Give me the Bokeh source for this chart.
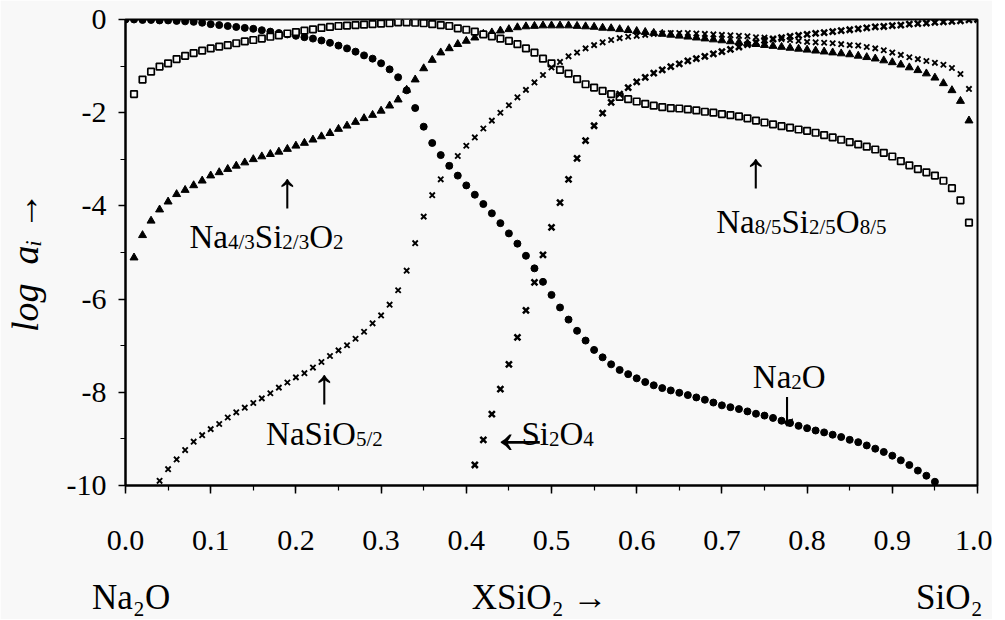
import math
from bokeh.plotting import figure
from bokeh.models import Range1d, Label, FixedTicker, PrintfTickFormatter, LinearAxis
from bokeh.embed import file_html
from bokeh.resources import INLINE

# ---------------- data (log a_i vs X_SiO2, step 0.01) ----------------
STEP = 0.01

na2o_x0 = 0.00
na2o_y = [0.0, 0.0, -0.01, -0.01, -0.02, -0.02, -0.03, -0.04, -0.05, -0.07,
          -0.10, -0.12, -0.14, -0.16, -0.18, -0.20, -0.23, -0.26, -0.29, -0.32,
          -0.35, -0.38, -0.41, -0.45, -0.50, -0.56, -0.62, -0.69, -0.77, -0.84,
          -0.94, -1.07, -1.24, -1.52, -1.90, -2.30, -2.65, -2.91, -3.14, -3.35,
          -3.56, -3.76, -3.96, -4.16, -4.37, -4.59, -4.81, -5.07, -5.34, -5.63,
          -5.91, -6.18, -6.44, -6.68, -6.89, -7.09, -7.25, -7.40, -7.52, -7.61,
          -7.70, -7.78, -7.85, -7.91, -7.96, -8.01, -8.06, -8.11, -8.16, -8.22,
          -8.28, -8.32, -8.36, -8.41, -8.46, -8.50, -8.55, -8.61, -8.66, -8.72,
          -8.77, -8.82, -8.86, -8.91, -8.96, -9.02, -9.07, -9.14, -9.21, -9.28,
          -9.36, -9.46, -9.56, -9.68, -9.79, -9.92]

na43_x0 = 0.01   # Na4/3Si2/3O2 (triangles)
na43_y = [-5.11, -4.63, -4.32, -4.08, -3.91, -3.75, -3.66, -3.56, -3.46, -3.35,
          -3.28, -3.21, -3.14, -3.07, -3.00, -2.94, -2.89, -2.84, -2.78, -2.71,
          -2.65, -2.58, -2.51, -2.44, -2.35, -2.28, -2.20, -2.12, -2.05, -1.96,
          -1.85, -1.72, -1.51, -1.29, -1.05, -0.87, -0.71, -0.62, -0.53, -0.46,
          -0.39, -0.31, -0.28, -0.24, -0.21, -0.17, -0.15, -0.14, -0.13, -0.13,
          -0.13, -0.13, -0.14, -0.15, -0.16, -0.18, -0.19, -0.21, -0.23, -0.25,
          -0.27, -0.29, -0.31, -0.33, -0.35, -0.37, -0.39, -0.41, -0.43, -0.45,
          -0.47, -0.49, -0.51, -0.53, -0.55, -0.57, -0.59, -0.61, -0.63, -0.65,
          -0.67, -0.69, -0.71, -0.73, -0.75, -0.78, -0.81, -0.84, -0.88, -0.92,
          -0.97, -1.03, -1.09, -1.16, -1.25, -1.37, -1.52, -1.75, -2.17]

na85_x0 = 0.01   # Na8/5Si2/5O8/5 (open squares)
na85_y = [-1.60, -1.29, -1.12, -1.01, -0.94, -0.85, -0.78, -0.72, -0.67, -0.62,
          -0.58, -0.55, -0.51, -0.47, -0.44, -0.41, -0.37, -0.34, -0.30, -0.27,
          -0.24, -0.21, -0.18, -0.16, -0.14, -0.13, -0.12, -0.11, -0.10, -0.09,
          -0.08, -0.06, -0.06, -0.07, -0.08, -0.10, -0.12, -0.14, -0.19, -0.22,
          -0.26, -0.32, -0.36, -0.41, -0.46, -0.53, -0.62, -0.71, -0.84, -0.94,
          -1.08, -1.16, -1.28, -1.39, -1.46, -1.53, -1.60, -1.66, -1.71, -1.76,
          -1.81, -1.85, -1.88, -1.90, -1.91, -1.93, -1.95, -1.98, -2.00, -2.03,
          -2.05, -2.08, -2.12, -2.17, -2.21, -2.25, -2.29, -2.32, -2.36, -2.39,
          -2.43, -2.48, -2.53, -2.58, -2.63, -2.68, -2.73, -2.79, -2.86, -2.94,
          -3.04, -3.13, -3.21, -3.28, -3.35, -3.46, -3.62, -3.88, -4.36]

nasio_x0 = 0.04  # NaSiO5/2 (x marks)
nasio_y = [-9.90, -9.65, -9.44, -9.24, -9.06, -8.92, -8.79, -8.68, -8.54, -8.43,
           -8.33, -8.23, -8.13, -8.02, -7.90, -7.79, -7.68, -7.59, -7.47, -7.35,
           -7.22, -7.10, -6.99, -6.85, -6.70, -6.52, -6.35, -6.12, -5.81, -5.39,
           -4.80, -4.23, -3.77, -3.43, -3.14, -2.93, -2.71, -2.53, -2.34, -2.17,
           -2.00, -1.84, -1.67, -1.51, -1.35, -1.19, -1.03, -0.91, -0.79, -0.71,
           -0.62, -0.55, -0.49, -0.44, -0.40, -0.37, -0.35, -0.33, -0.31, -0.30,
           -0.29, -0.29, -0.29, -0.30, -0.31, -0.32, -0.33, -0.34, -0.35, -0.36,
           -0.38, -0.39, -0.41, -0.42, -0.44, -0.46, -0.48, -0.49, -0.50, -0.51,
           -0.53, -0.55, -0.56, -0.59, -0.62, -0.66, -0.71, -0.76, -0.81, -0.85,
           -0.89, -0.93, -0.97, -1.04, -1.17, -1.49]

si2o4_x0 = 0.41  # Si2O4
si2o4_y = [-9.56, -9.02, -8.47, -7.93, -7.40, -6.82, -6.24, -5.64, -5.05, -4.46,
           -3.93, -3.43, -2.98, -2.60, -2.28, -2.01, -1.78, -1.60, -1.46, -1.34,
           -1.24, -1.15, -1.08, -1.01, -0.95, -0.89, -0.84, -0.79, -0.74, -0.69,
           -0.64, -0.59, -0.54, -0.49, -0.45, -0.42, -0.39, -0.36, -0.34, -0.32,
           -0.30, -0.28, -0.26, -0.24, -0.22, -0.20, -0.18, -0.16, -0.15, -0.13,
           -0.12, -0.10, -0.09, -0.08, -0.06, -0.05, -0.04, -0.03, -0.01, 0.00]

x_ticks = [0.0, 0.1, 0.2, 0.3, 0.4, 0.5, 0.6, 0.7, 0.8, 0.9, 1.0]
y_ticks = [0, -2, -4, -6, -8, -10]

bottom_label_pos = [0.0065, 0.486, 0.967]
bottom_label_text = ["Na\u2082O", "XSiO\u2082 \u2192", "SiO\u2082"]
y_title = "log\u2002a\u1d62 \u2192\u2002"


def xs(x0, ys):
    return [round(x0 + STEP * i, 4) for i in range(len(ys))]


# ---------------- figure ----------------
BG = "#f8f8f8"
FONT = "Liberation Serif"

p = figure(frame_width=852, frame_height=466,
           x_range=Range1d(0, 1), y_range=Range1d(-10, 0),
           output_backend="svg", toolbar_location=None,
           min_border_left=123, min_border_right=15,
           min_border_top=19, min_border_bottom=127,
           background_fill_color=BG, border_fill_color=BG,
           outline_line_color="black", outline_line_width=2)
p.grid.visible = False

for ax in (p.xaxis[0], p.yaxis[0]):
    ax.axis_line_width = 2
    ax.axis_line_color = "black"
    ax.major_tick_line_color = "black"
    ax.minor_tick_line_color = "black"
    ax.major_tick_line_width = 1.5
    ax.minor_tick_line_width = 1.2
    ax.major_tick_in = 0
    ax.minor_tick_in = 0
    ax.major_label_text_font = FONT
    ax.major_label_text_font_size = "30px"
    ax.major_label_text_color = "black"

p.xaxis.ticker = FixedTicker(ticks=x_ticks,
                             minor_ticks=[round(0.05 * i, 2) for i in range(21)])
p.xaxis.formatter = PrintfTickFormatter(format="%.1f")
p.xaxis.major_tick_out = 8
p.xaxis.minor_tick_out = 5
p.xaxis.major_label_standoff = 37

p.yaxis.ticker = FixedTicker(ticks=y_ticks, minor_ticks=list(range(-10, 1)))
p.yaxis.formatter = PrintfTickFormatter(format="%d")
p.yaxis.major_tick_out = 7
p.yaxis.minor_tick_out = 5
p.yaxis.major_label_standoff = 12
p.yaxis.axis_label = y_title
p.yaxis.axis_label_text_font = FONT
p.yaxis.axis_label_text_font_style = "italic"
p.yaxis.axis_label_text_font_size = "38px"
p.yaxis.axis_label_text_color = "black"
p.yaxis.axis_label_standoff = 18

# second row of labels under the x axis: end members and axis title
bax = LinearAxis(ticker=FixedTicker(ticks=bottom_label_pos, minor_ticks=[]),
                 major_label_overrides=dict(zip(bottom_label_pos, bottom_label_text)),
                 axis_line_color=None, major_tick_line_color=None, minor_tick_line_color=None,
                 major_tick_out=0, major_tick_in=0, major_label_standoff=25,
                 major_label_text_font=FONT, major_label_text_font_size="35px",
                 major_label_text_color="black")
p.add_layout(bax, "below")

# ---------------- series ----------------
p.scatter(xs(na2o_x0, na2o_y), na2o_y, marker="circle", size=7,
          fill_color="black", line_color="black")
p.scatter(xs(na43_x0, na43_y), na43_y, marker="triangle", size=8,
          fill_color="black", line_color="black")
p.scatter(xs(na85_x0, na85_y), na85_y, marker="square", size=6.5,
          fill_color=BG, line_color="black", line_width=1.7)
p.scatter(xs(nasio_x0, nasio_y), nasio_y, marker="x", size=7.5,
          line_color="black", line_width=1.9)
p.scatter(xs(si2o4_x0, si2o4_y), si2o4_y, marker="x", size=8.5,
          line_color="black", line_width=2.5)

# ---------------- text helpers ----------------
WID = {'N': .722, 'a': .444, 'S': .556, 'i': .278, 'O': .722, '/': .278,
       ' ': .25, 'X': .722}


def tw(s, fs):
    return sum(WID.get(c, .5) for c in s) * fs


def formula(x, y, parts, fs=33, sfs=21, drop=5, start=0.0):
    off = start
    for txt, kind in parts:
        size = sfs if kind == "s" else fs
        p.add_layout(Label(x=x, y=y, x_offset=off, y_offset=-drop if kind == "s" else 0,
                           text=txt, text_font=FONT, text_font_size=f"{size}px",
                           text_color="black", text_align="left", text_baseline="alphabetic"))
        off += tw(txt, size)


def arrow(x, y, ch, fs=50, align="center"):
    p.add_layout(Label(x=x, y=y, y_offset=-0.1 * fs, text=ch, text_font=FONT,
                       text_font_size=f"{fs}px", text_color="black",
                       text_align=align, text_baseline="middle"))


# annotations inside the plot
arrow(0.190, -3.56, "\u2191")
formula(0.0751, -4.678, [("Na", "n"), ("4/3", "s"), ("Si", "n"), ("2/3", "s"), ("O", "n"), ("2", "s")])
arrow(0.740, -3.12, "\u2191")
formula(0.6933, -4.356, [("Na", "n"), ("8/5", "s"), ("Si", "n"), ("2/5", "s"), ("O", "n"), ("8/5", "s")])
arrow(0.2336, -7.75, "\u2191")
formula(0.165, -8.90, [("NaSiO", "n"), ("5/2", "s")])
arrow(0.4249, -8.685, "\u2190", fs=66, align="left")
formula(0.4249, -8.90, [("Si", "n"), ("2", "s"), ("O", "n"), ("4", "s")], start=34)
formula(0.7363, -7.68, [("Na", "n"), ("2", "s"), ("O", "n")])
arrow(0.7766, -8.24, "\u2193")

open("out.html", "w").write(file_html(p, INLINE))
